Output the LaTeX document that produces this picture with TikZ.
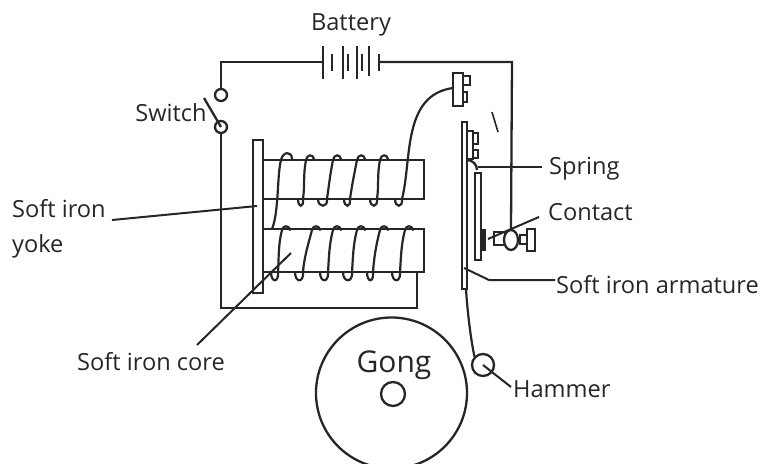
\documentclass[tikz,border=0pt]{standalone}
\usepackage{fontspec}
\setmainfont{Open Sans}
\usetikzlibrary{positioning, calc, shapes.geometric}
\begin{document}
\begin{tikzpicture}[x=1pt, y=-1pt, line width=2.3pt, color=black!85]
    \tikzset{labelnode/.style={inner sep=0pt, font=\fontsize{23.6}{35}\selectfont, text=black!85, align=left}}
    \tikzset{leader/.style={line width=2pt}}
    \tikzset{wirecurve/.style={line width=2.2pt, line cap=round}}
    \tikzset{terminal/.style={circle, draw, fill=white, minimum size=12pt, inner sep=0pt}}
    \useasboundingbox (0,0) rectangle (760,463);

    % battery
    \foreach \px/\py/\qy in {323/46/79, 332/54/71, 343/46/79, 348/54/71, 357/46/79, 362/54/71, 369/46/76, 379/54/71} {
        \draw (\px,\py) -- (\px,\qy);
    }
    \coordinate (batl) at (323,62);
    \coordinate (batr) at (379,62);
    \coordinate (corner) at (221,62);
    \coordinate (cornerr) at (512,62);
    \coordinate (wiretail) at (221,308);
    \coordinate (coretail) at (417,308);
    \coordinate (coreend) at (417,272);

    % switch
    \node[terminal] (swa) at (221,95) {};
    \node[terminal] (swb) at (221,127) {};
    \draw (batl) -- (corner) -- (swa);
    \draw (swb) -- (wiretail) -- (coretail) -- (coreend);
    \draw (204,98) -- (swb.center);

    % yoke and cores
    \draw[fill=white] (253,140) rectangle (263,293);
    \draw (263,160) rectangle (424,199);
    \draw (263,229) rectangle (424,272);

    % coils
    \foreach \lx/\rx/\tx in {298/303/306, 318/327/333, 344/350/357, 370/377/380} {
        \draw[wirecurve] (\lx,199) .. controls (\lx,208) and (\rx+1,208) .. (\rx,199) .. controls (\rx+2,185) and (\tx-3,175) .. (\tx,160) .. controls (\tx+1,154) and (\tx+7,154) .. (\tx+8,159);
    }
    \foreach \lx/\rx/\tx in {271/278/282, 295/303/312, 320/328/333, 343/352/357, 367/373/380, 392/400/405} {
        \draw[wirecurve] (\lx,272) .. controls (\lx,283) and (\rx+1,283) .. (\rx,272) .. controls (\rx+1,258) and (\tx-4,245) .. (\tx,230) .. controls (\tx+1,225) and (\tx+7,225) .. (\tx+8,230);
    }
    \draw[wirecurve] (272,229) .. controls (279,212) and (277,175) .. (281,160) .. controls (283,151) and (292,151) .. (292,159);
    \draw[wirecurve] (395,199) .. controls (395,208) and (403,208) .. (402,199) .. controls (412,160) and (402,95) .. (453,88);

    % top terminal
    \draw (453,73) rectangle (463,106);
    \draw (463,76) rectangle (470,85);
    \draw (463,92) rectangle (467,102);

    % armature
    \coordinate (tick) at (492,112);
    \draw[line width=1.6pt] (tick) -- (498,132);
    \draw (462,122) rectangle (467,289);
    \draw (467,131) rectangle (473,159);
    \draw (473,133) rectangle (478,144);
    \draw (473,150) rectangle (478,158);
    \draw (467,160) arc[start angle=90, end angle=0, radius=10pt];
    \draw (475,173) rectangle (481,260);
    \fill (481,229) rectangle (486,251);

    % contact screw
    \draw (494,232) rectangle (505,245);
    \draw (520,235) rectangle (527,244);
    \draw (527,229) rectangle (535,251);
    \node[draw, ellipse, minimum width=14pt, minimum height=20pt, inner sep=0pt, fill=white] (screw) at (511,240) {};
    \draw (batr) -- (cornerr) -- (screw.north);

    % gong and hammer
    \node[circle, draw, minimum size=151pt, inner sep=0pt] (gong) at (391.5,393) {};
    \node[circle, draw, minimum size=24pt, inner sep=0pt] (hub) at (393,394) {};
    \node[circle, draw, minimum size=22pt, inner sep=0pt] (hammer) at (483,365) {};
    \draw[wirecurve] (466,289) .. controls (468,320) and (472,345) .. (hammer.north west);

    % labels
    \node[labelnode] (battery) at (351,25) {Battery};
    \node[labelnode] (switch) at (171,113) {Switch};
    \node[labelnode, anchor=west] (yoke) at (11,229) {Soft iron\\yoke};
    \node[labelnode] (core) at (151,362) {Soft iron core};
    \node[labelnode, font=\fontsize{30}{36}\selectfont] (gongtext) at (394,365) {Gong};
    \node[labelnode, anchor=west] (spring) at (548,169) {Spring};
    \node[labelnode, anchor=west] (contact) at (547,212) {Contact};
    \node[labelnode, anchor=west] (armature) at (555,285) {Soft iron armature};
    \node[labelnode, anchor=west] (hammertext) at (512,389) {Hammer};

    % leaders
    \coordinate (yokeend) at (257,206);
    \coordinate (coreend2) at (291,253);
    \draw[leader] (112,220) -- (yokeend);
    \draw[leader] (197,345) -- (coreend2);
    \draw[leader] (478,167) -- (542,167);
    \draw[leader] (488,239) -- (539,217);
    \draw[leader] (464,268) -- (489,280) -- (555,280);
    \draw[leader] (hammer.center) -- (511,387);
\end{tikzpicture}
\end{document}
